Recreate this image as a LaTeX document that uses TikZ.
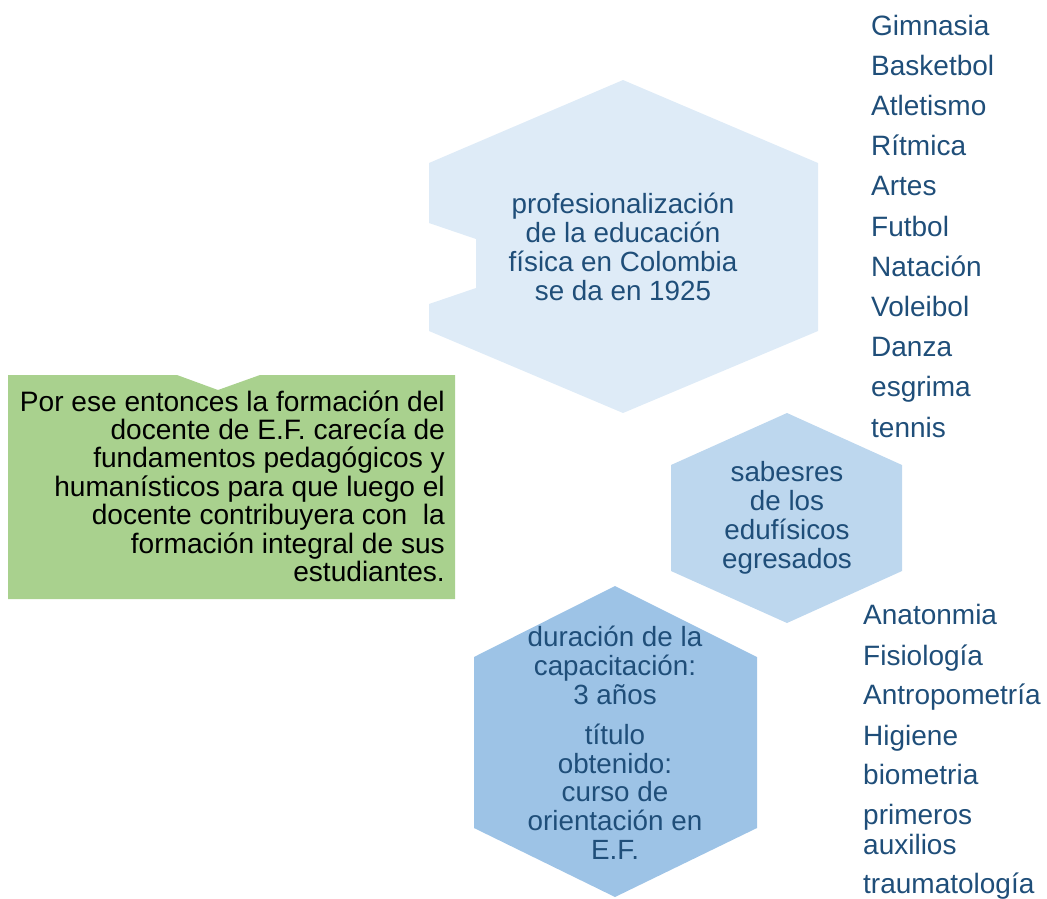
\documentclass[tikz,border=0pt]{standalone}
\usepackage{fontspec}
\setmainfont{Liberation Sans}
\definecolor{hexA}{HTML}{DEEBF7}
\definecolor{hexB}{HTML}{BDD7EE}
\definecolor{hexC}{HTML}{9DC3E6}
\definecolor{greenbox}{HTML}{A9D18E}
\definecolor{txtblue}{HTML}{1F4E79}
\begin{document}
\begin{tikzpicture}[x=1pt,y=-1pt,
  txt/.style={text=txtblue, font=\fontsize{27.8}{28.8}\selectfont, inner sep=0pt, align=center},
  gtxt/.style={text=black, font=\fontsize{28.1}{28.4}\selectfont, inner sep=0pt, align=right},
  item/.style={text=txtblue, font=\fontsize{28}{30}\selectfont, inner sep=0pt, anchor=base west}]
\useasboundingbox (0,0) rectangle (1047,898);
% shapes
\fill[hexA] (623,80) -- (818,163) -- (818,331) -- (623,413) -- (429,331) -- (429,304) -- (476,288) -- (476,239) -- (429,223) -- (429,163) -- cycle;
\fill[greenbox] (8,375) -- (177,375) -- (218,390) -- (260,375) -- (455,375) -- (455,599) -- (8,599) -- cycle;
\fill[hexB] (787,413) -- (902,465) -- (902,571) -- (787,623) -- (671,571) -- (671,465) -- cycle;
\fill[hexC] (615,586) -- (757,657) -- (757,828) -- (615,897) -- (474,828) -- (474,657) -- cycle;
% texts
\node[txt] (prof) at (623,247) {profesionalización\\de la educación\\física en Colombia\\se da en 1925};
\node[gtxt, anchor=east] (green) at (445,486) {Por ese entonces la formación del\\docente de E.F. carecía de\\fundamentos pedagógicos y\\humanísticos para que luego el\\docente contribuyera con\ \ la\\formación integral de sus\\estudiantes.};
\node[txt] (sab) at (787,518) {sabesres\\de los\\edufísicos\\egresados};
\node[txt] (dur) at (615,743) {duración de la\\capacitación:\\3 años\\[11pt]título\\obtenido:\\curso de\\orientación en\\E.F.};
% list 1
\foreach \t [count=\i] in {Gimnasia,Basketbol,Atletismo,Rítmica,Artes,Futbol,Natación,Voleibol,Danza,esgrima,tennis}
  \node[item] (d\i) at (871,{35+(\i-1)*40.2}) {\t};
% list 2
\node[item] (s1) at (863,624) {Anatonmia};
\node[item] (s2) at (863,665) {Fisiología};
\node[item] (s3) at (863,704) {Antropometría};
\node[item] (s4) at (863,745) {Higiene};
\node[item] (s5) at (863,784) {biometria};
\node[item] (s6) at (863,824) {primeros};
\node[item] (s7) at (863,854) {auxilios};
\node[item] (s8) at (863,893) {traumatología};
\end{tikzpicture}
\end{document}
